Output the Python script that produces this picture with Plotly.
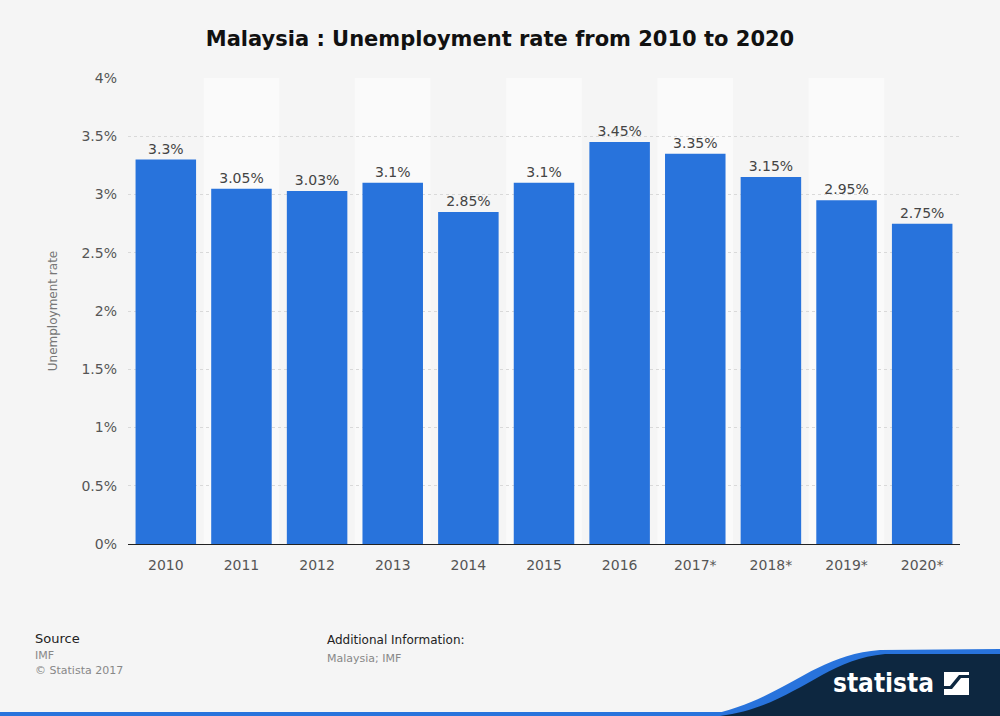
import plotly.graph_objects as go

# data
years = ['2010', '2011', '2012', '2013', '2014', '2015', '2016',
         '2017*', '2018*', '2019*', '2020*']
rates = [3.3, 3.05, 3.03, 3.1, 2.85, 3.1, 3.45, 3.35, 3.15, 2.95, 2.75]
labels = ['3.3%', '3.05%', '3.03%', '3.1%', '2.85%', '3.1%', '3.45%',
          '3.35%', '3.15%', '2.95%', '2.75%']
yticks = [0, 0.5, 1, 1.5, 2, 2.5, 3, 3.5, 4]
yticklabels = ['0%', '0.5%', '1%', '1.5%', '2%', '2.5%', '3%', '3.5%', '4%']

W, H = 1000, 716
ML, MR, MT, MB = 128, 40, 78, 172
PW, PH = W - ML - MR, H - MT - MB


def px(x):
    return (x - ML) / PW


def py(y):
    return (H - MB - y) / PH


blue = '#2873dc'
navy = '#0d2740'
font = 'DejaVu Sans'

fig = go.Figure(go.Bar(
    x=years, y=rates, text=labels, textposition='outside',
    marker=dict(color=blue, line=dict(width=0)),
    textfont=dict(family=font, size=14, color='#444444'),
    cliponaxis=False, hoverinfo='x+y'))

shapes = []
# lighter bands behind every other column
for i in range(1, len(years), 2):
    shapes.append(dict(type='rect', xref='x', yref='paper', x0=i - 0.5, x1=i + 0.5,
                       y0=0, y1=1, fillcolor='#fafafa', line=dict(width=0), layer='below'))


def path(points):
    s = 'M %f,%f' % (px(points[0][0]), py(points[0][1]))
    for seg in points[1:]:
        if len(seg) == 2:
            s += ' L %f,%f' % (px(seg[0]), py(seg[1]))
        else:
            s += ' C %f,%f %f,%f %f,%f' % (px(seg[0]), py(seg[1]), px(seg[2]), py(seg[3]),
                                           px(seg[4]), py(seg[5]))
    return s + ' Z'


# bottom blue strip
shapes.append(dict(type='rect', xref='paper', yref='paper', x0=px(0), x1=px(1000),
                   y0=py(716), y1=py(712), fillcolor=blue, line=dict(width=0)))
# swoosh (blue edge then navy body)
shapes.append(dict(type='path', xref='paper', yref='paper',
                   path=path([(705, 716), (785, 700, 812, 655, 880, 650), (1000, 649),
                              (1000, 716)]),
                   fillcolor=blue, line=dict(width=0)))
shapes.append(dict(type='path', xref='paper', yref='paper',
                   path=path([(720, 716), (795, 706, 822, 660, 885, 654), (1000, 654),
                              (1000, 716)]),
                   fillcolor=navy, line=dict(width=0)))
# logo icon
shapes.append(dict(type='rect', xref='paper', yref='paper', x0=px(944), x1=px(969),
                   y0=py(695), y1=py(672), fillcolor='white', line=dict(width=0)))
shapes.append(dict(type='path', xref='paper', yref='paper',
                   path=path([(944, 689), (952, 689), (961, 678), (969, 678),
                              (969, 675), (959, 675), (950, 686), (944, 686)]),
                   fillcolor=navy, line=dict(width=0)))

annotations = [
    dict(text='Source', x=px(33), y=py(638), xref='paper', yref='paper',
         xanchor='left', yanchor='middle', showarrow=False,
         font=dict(family=font, size=13, color='#222222')),
    dict(text='IMF', x=px(33), y=py(655), xref='paper', yref='paper',
         xanchor='left', yanchor='middle', showarrow=False,
         font=dict(family=font, size=11, color='#888888')),
    dict(text='© Statista 2017', x=px(33), y=py(670), xref='paper', yref='paper',
         xanchor='left', yanchor='middle', showarrow=False,
         font=dict(family=font, size=11, color='#888888')),
    dict(text='Additional Information:', x=px(325), y=py(640), xref='paper', yref='paper',
         xanchor='left', yanchor='middle', showarrow=False,
         font=dict(family=font, size=12, color='#222222')),
    dict(text='Malaysia; IMF', x=px(325), y=py(658), xref='paper', yref='paper',
         xanchor='left', yanchor='middle', showarrow=False,
         font=dict(family=font, size=11, color='#888888')),
    dict(text='<b>statista</b>', x=px(936), y=py(683), xref='paper', yref='paper',
         xanchor='right', yanchor='middle', showarrow=False,
         font=dict(family='DejaVu Sans Condensed, DejaVu Sans', size=26, color='white')),
]

fig.update_layout(
    width=W, height=H,
    margin=dict(l=ML, r=MR, t=MT, b=MB),
    paper_bgcolor='#f5f5f5', plot_bgcolor='#f5f5f5',
    title=dict(text='<b>Malaysia : Unemployment rate from 2010 to 2020</b>',
               x=0.5, xanchor='center', y=1 - 39 / H, yanchor='middle',
               font=dict(family=font, size=21, color='#111111')),
    bargap=0.2,
    showlegend=False,
    shapes=shapes,
    annotations=annotations,
    font=dict(family=font),
)
fig.update_xaxes(showline=True, linecolor='#222222', linewidth=1, ticks='',
                 tickfont=dict(family=font, size=14, color='#555555'),
                 ticklabelstandoff=8, showgrid=False, fixedrange=True)
fig.update_yaxes(range=[0, 4], tickvals=yticks, ticktext=yticklabels,
                 tickfont=dict(family=font, size=14, color='#555555'),
                 gridcolor='#d9d9d9', griddash='dot', gridwidth=1,
                 zeroline=False, ticklabelstandoff=10,
                 title=dict(text='Unemployment rate', standoff=21,
                            font=dict(family=font, size=12, color='#777777')),
                 fixedrange=True)

fig.write_html('out.html', config={'displayModeBar': False},
               post_script="document.body.style.margin='0';")
